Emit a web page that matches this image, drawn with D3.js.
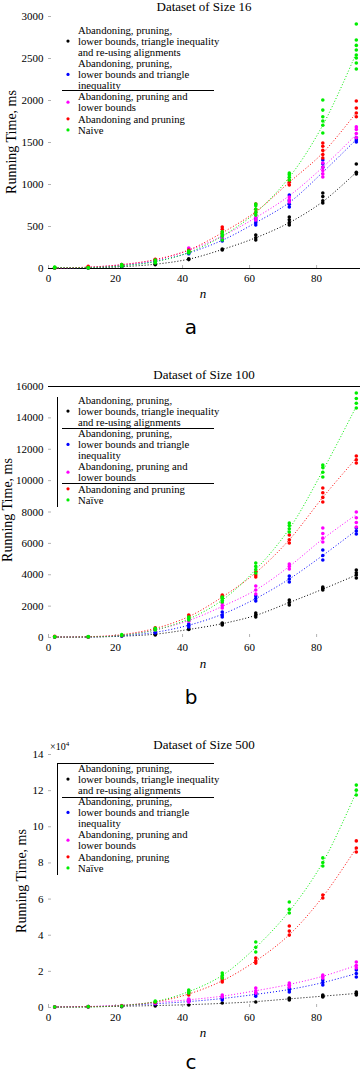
<!DOCTYPE html>
<html>
<head>
<meta charset="utf-8">
<script src="https://cdn.jsdelivr.net/npm/d3@7"></script>
<style>
  body { margin: 0; background: #fff; }
  svg { display: block; }
</style>
</head>
<body>
<div id="chart"></div>
<script>
const WIDTH = 360;
const HEIGHT = 1074;
const FONT = '"Liberation Serif", "DejaVu Serif", serif';

// sequence lengths measured
const nValues = [2, 12, 22, 32, 42, 52, 62, 72, 82, 92];

const seriesColors = ['#000000', '#0000ff', '#ff00ff', '#ff0000', '#00ee00'];

// ---- Dataset of size 16 (ms) ----
const aFull = [[0], [0], [12, 20], [40, 48], [100, 110], [215, 226], [333, 360, 393], [512, 540, 575, 607], [774, 800, 850, 893], [1120, 1140, 1238]];
const aTri = [[0], [0], [20], [70, 80], [170, 185], [321, 345, 369], [512, 540, 570, 595], [726, 760, 800, 869], [1200, 1240, 1285], [1500, 1525, 1550]];
const aLower = [[0], [5], [30, 40], [90, 100], [225, 238], [360, 380], [571, 600, 631], [786, 815, 845], [1083, 1120, 1160, 1200, 1250], [1550, 1600, 1650, 1680]];
const aPrune = [[0, 5], [5, 20], [30, 40], [90, 105], [200, 215], [429, 460, 488], [660, 700, 762], [988, 1020, 1048], [1310, 1350, 1400, 1450, 1488], [1800, 1845, 1905, 1988]];
const aNaive = [[0, 5, 10], [0, 5], [20, 30, 40], [60, 75, 95], [178, 190, 202], [333, 380, 400, 430], [630, 660, 700, 740, 762], [1048, 1080, 1110, 1130], [1607, 1700, 1750, 1800, 1880, 2000], [2369, 2440, 2500, 2535, 2595, 2650, 2714, 2905]];
const aFullFit = [0, 0, 15, 45, 105, 220, 360, 540, 790, 1140];
const aTriFit = [0, 5, 30, 80, 180, 330, 540, 780, 1140, 1530];
const aLowerFit = [0, 10, 40, 95, 210, 380, 600, 860, 1200, 1590];
const aPruneFit = [0, 10, 40, 100, 215, 420, 670, 1020, 1370, 1850];
const aNaiveFit = [5, 5, 25, 75, 185, 380, 660, 1080, 1700, 2560];

// ---- Dataset of size 100 (ms) ----
const bFull = [[0], [0], [60], [127, 180], [480, 510], [765, 850, 892], [1275, 1400, 1530], [2040, 2200, 2358], [2996, 3100, 3187], [3760, 3950, 4100, 4270]];
const bTri = [[0], [0], [60], [255, 300], [637, 750, 829], [1275, 1400, 1593], [2294, 2450, 2613], [3505, 3700, 3888], [4908, 5200, 5545], [6565, 6750, 6947]];
const bLower = [[0], [0], [100], [446, 520], [1000, 1100], [1848, 2000, 2167], [2740, 3000, 3250], [4334, 4500, 4653], [6055, 6300, 6600, 6947], [7011, 7300, 7600, 7967]];
const bPrune = [[0, 50], [0], [100], [500, 580], [1275, 1402], [2486, 2600, 2677], [3824, 3950, 4143], [5991, 6200, 6501], [8604, 8900, 9200, 9496], [11090, 11300, 11536]];
const bNaive = [[0, 20], [0, 30], [100, 150], [450, 550], [1083, 1180, 1275], [2231, 2350, 2486, 2550], [4079, 4300, 4500, 4716], [6692, 6900, 7100, 7266], [10197, 10500, 10800, 10962], [14595, 14900, 15200, 15551]];
const bFullFit = [0, 0, 50, 180, 480, 850, 1380, 2200, 3050, 3950];
const bTriFit = [0, 0, 80, 300, 750, 1450, 2450, 3700, 5200, 6800];
const bLowerFit = [0, 0, 120, 450, 1050, 1950, 3000, 4500, 6250, 7800];
const bPruneFit = [0, 20, 150, 550, 1300, 2550, 4100, 6200, 8900, 11400];
const bNaiveFit = [0, 0, 100, 450, 1150, 2350, 4300, 6900, 10600, 14700];

// ---- Dataset of size 500 (x10^4 ms) ----
const cFull = [[0], [0], [0.02], [0.06], [0.11], [0.22], [0.28], [0.39, 0.45, 0.5], [0.55, 0.6, 0.66], [0.66, 0.75, 0.83]];
const cTri = [[0], [0.02], [0.05], [0.17], [0.3, 0.38], [0.39, 0.47, 0.55], [0.6, 0.7, 0.77], [0.83, 0.95, 1.05], [1.22, 1.35, 1.49], [1.66, 1.85, 2.05]];
const cLower = [[0], [0.02], [0.08], [0.2], [0.28, 0.36, 0.44], [0.55, 0.66], [0.77, 0.9, 1.05], [1.1, 1.2, 1.33], [1.6, 1.7, 1.77], [2.16, 2.3, 2.49]];
const cPrune = [[0], [0.02], [0.06], [0.25], [0.66, 0.77], [1.38, 1.5, 1.6], [2.43, 2.55, 2.71], [3.98, 4.2, 4.48], [6.03, 6.2], [8.58, 8.8, 9.19]];
const cNaive = [[0], [0.02], [0.05], [0.28, 0.33], [0.77, 0.85, 0.94], [1.6, 1.75, 1.88], [3.04, 3.3, 3.6], [5.2, 5.4, 5.81], [7.8, 8.0, 8.25], [11.73, 12.0, 12.28]];
const cFullFit = [0, 0.01, 0.04, 0.08, 0.13, 0.2, 0.3, 0.45, 0.6, 0.75];
const cTriFit = [0, 0.02, 0.08, 0.18, 0.3, 0.47, 0.7, 0.97, 1.35, 1.85];
const cLowerFit = [0, 0.03, 0.1, 0.25, 0.4, 0.6, 0.9, 1.25, 1.7, 2.3];
const cPruneFit = [0, 0.02, 0.08, 0.28, 0.72, 1.45, 2.55, 4.0, 6.1, 8.8];
const cNaiveFit = [0, 0, 0.08, 0.3, 0.85, 1.75, 3.3, 5.3, 8.0, 11.9];

const legendA = [
  ['Abandoning, pruning,', 'lower bounds, triangle inequality', 'and re-using alignments'],
  ['Abandoning, pruning,', 'lower bounds and triangle', 'inequality'],
  ['Abandoning, pruning and', 'lower bounds'],
  ['Abandoning and pruning'],
  ['Naive']
];
const legendB = [legendA[0], legendA[1], legendA[2], ['Abandoning and pruning'], ['Naïve']];
const legendC = [legendA[0], legendA[1], legendA[2], ['Abandoning, pruning'], ['Naïve']];

const panels = [
  {
    title: 'Dataset of Size 16', letter: 'a',
    scatter: [aFull, aTri, aLower, aPrune, aNaive],
    fits: [aFullFit, aTriFit, aLowerFit, aPruneFit, aNaiveFit],
    legend: legendA,
    yMax: 3000, yStep: 500, top: 16, bottom: 268,
    titleY: 11, nY: 298, letterY: 334, ylabX: 11, ylabY: 142,
    legY: 30, bottomLine: true, topLine: false,
    seps: [5.4], vline: null
  },
  {
    title: 'Dataset of Size 100', letter: 'b',
    scatter: [bFull, bTri, bLower, bPrune, bNaive],
    fits: [bFullFit, bTriFit, bLowerFit, bPruneFit, bNaiveFit],
    legend: legendB,
    yMax: 16000, yStep: 2000, top: 386, bottom: 637,
    titleY: 379, nY: 668, letterY: 704, ylabX: 7, ylabY: 510,
    legY: 400, bottomLine: false, topLine: true,
    seps: [2.5, 7.5], vline: [-3, 107]
  },
  {
    title: 'Dataset of Size 500', letter: 'c',
    scatter: [cFull, cTri, cLower, cPrune, cNaive],
    fits: [cFullFit, cTriFit, cLowerFit, cPruneFit, cNaiveFit],
    legend: legendC,
    yMax: 14, yStep: 2, top: 754, bottom: 1007,
    titleY: 749, nY: 1037, letterY: 1069, ylabX: 21, ylabY: 881,
    legY: 768, bottomLine: false, topLine: false,
    seps: [-0.45, 2.6], vline: [-5, 107], multiplier: true
  }
];

const svg = d3.select('#chart')
  .append('svg')
  .attr('width', WIDTH)
  .attr('height', HEIGHT)
  .style('font-family', FONT);

svg.append('rect').attr('width', WIDTH).attr('height', HEIGHT).attr('fill', '#fff');

const LINE_H = 11.1;
const markerRows = [1, 4, 6.5, 8, 9];

panels.forEach((p) => {
  const x = d3.scaleLinear().domain([0, 93.1]).range([48, 360]);
  const y = d3.scaleLinear().domain([0, p.yMax]).range([p.bottom, p.top]);
  const g = svg.append('g');

  // y axis
  const yAxis = g.append('g')
    .attr('transform', 'translate(48,0)')
    .call(d3.axisLeft(y)
      .tickValues(d3.range(0, p.yMax + 1, p.yStep))
      .tickFormat(d3.format('d'))
      .tickSizeInner(-3).tickSizeOuter(0).tickPadding(4.5));
  yAxis.attr('font-family', null);
  yAxis.select('.domain').remove();
  yAxis.selectAll('line').attr('stroke', '#000').attr('stroke-opacity', 0.3);
  yAxis.selectAll('text').attr('font-family', FONT).attr('font-size', 11).attr('fill', '#000');

  // x axis
  const xAxis = g.append('g')
    .attr('transform', `translate(0,${p.bottom})`)
    .call(d3.axisBottom(x)
      .tickValues([0, 20, 40, 60, 80])
      .tickFormat(d3.format('d'))
      .tickSizeInner(-3).tickSizeOuter(0).tickPadding(6));
  xAxis.attr('font-family', null);
  xAxis.select('.domain').remove();
  xAxis.selectAll('line').attr('stroke', '#000').attr('stroke-opacity', 0.3);
  xAxis.selectAll('text').attr('font-family', FONT).attr('font-size', 11).attr('fill', '#000');

  if (p.bottomLine) {
    g.append('line').attr('x1', 48).attr('x2', 360)
      .attr('y1', p.bottom + 0.5).attr('y2', p.bottom + 0.5)
      .attr('stroke', '#000').attr('stroke-width', 1);
  }
  if (p.topLine) {
    g.append('line').attr('x1', 48).attr('x2', 360)
      .attr('y1', p.top + 0.5).attr('y2', p.top + 0.5)
      .attr('stroke', '#000').attr('stroke-width', 1);
  }

  // fit curves
  const line = d3.line()
    .x((d, i) => x(nValues[i]))
    .y((d) => y(d))
    .curve(d3.curveCatmullRom);

  p.fits.forEach((fit, s) => {
    g.append('path')
      .attr('d', line(fit))
      .attr('fill', 'none')
      .attr('stroke', seriesColors[s])
      .attr('stroke-width', 1)
      .attr('stroke-dasharray', '1,2');
  });

  // measured points
  p.scatter.forEach((vals, s) => {
    const pts = vals.flatMap((arr, i) => arr.map((v) => ({ n: nValues[i], v })));
    g.selectAll(null)
      .data(pts)
      .enter()
      .append('circle')
      .attr('cx', (d) => x(d.n))
      .attr('cy', (d) => y(d.v))
      .attr('r', 1.8)
      .attr('fill', seriesColors[s]);
  });

  // title
  g.append('text')
    .attr('x', 204).attr('y', p.titleY)
    .attr('text-anchor', 'middle')
    .attr('font-size', 13)
    .text(p.title);

  if (p.multiplier) {
    const m = g.append('text').attr('x', 50).attr('y', p.top - 4).attr('font-size', 10);
    m.append('tspan').text('×10');
    m.append('tspan').attr('font-size', 7).attr('dy', -4).text('4');
  }

  // axis labels
  g.append('text')
    .attr('transform', `translate(${p.ylabX},${p.ylabY}) rotate(-90)`)
    .attr('text-anchor', 'middle')
    .attr('dy', '0.35em')
    .attr('font-size', 14)
    .text('Running Time, ms');

  g.append('text')
    .attr('x', 203).attr('y', p.nY)
    .attr('text-anchor', 'middle')
    .attr('font-size', 13)
    .attr('font-style', 'italic')
    .text('n');

  g.append('text')
    .attr('x', 191).attr('y', p.letterY)
    .attr('text-anchor', 'middle')
    .attr('font-family', '"DejaVu Sans", sans-serif')
    .attr('font-size', 20)
    .text(p.letter);

  // legend
  const leg = g.append('g');
  let row = 0;
  p.legend.forEach((lines, s) => {
    lines.forEach((t) => {
      leg.append('text')
        .attr('x', 78).attr('y', p.legY + row * LINE_H)
        .attr('dy', '0.35em')
        .attr('font-size', 10.7)
        .text(t);
      row++;
    });
    leg.append('circle')
      .attr('cx', 68).attr('cy', p.legY + markerRows[s] * LINE_H)
      .attr('r', 1.6)
      .attr('fill', seriesColors[s]);
  });
  p.seps.forEach((k) => {
    leg.append('line')
      .attr('x1', k < 0 ? 57 : 62).attr('x2', 214)
      .attr('y1', Math.round(p.legY + k * LINE_H) + 0.5)
      .attr('y2', Math.round(p.legY + k * LINE_H) + 0.5)
      .attr('stroke', '#000').attr('stroke-width', 1);
  });
  if (p.vline) {
    leg.append('line')
      .attr('x1', 57.5).attr('x2', 57.5)
      .attr('y1', p.legY + p.vline[0]).attr('y2', p.legY + p.vline[1])
      .attr('stroke', '#000').attr('stroke-width', 1);
  }
});
</script>
</body>
</html>
